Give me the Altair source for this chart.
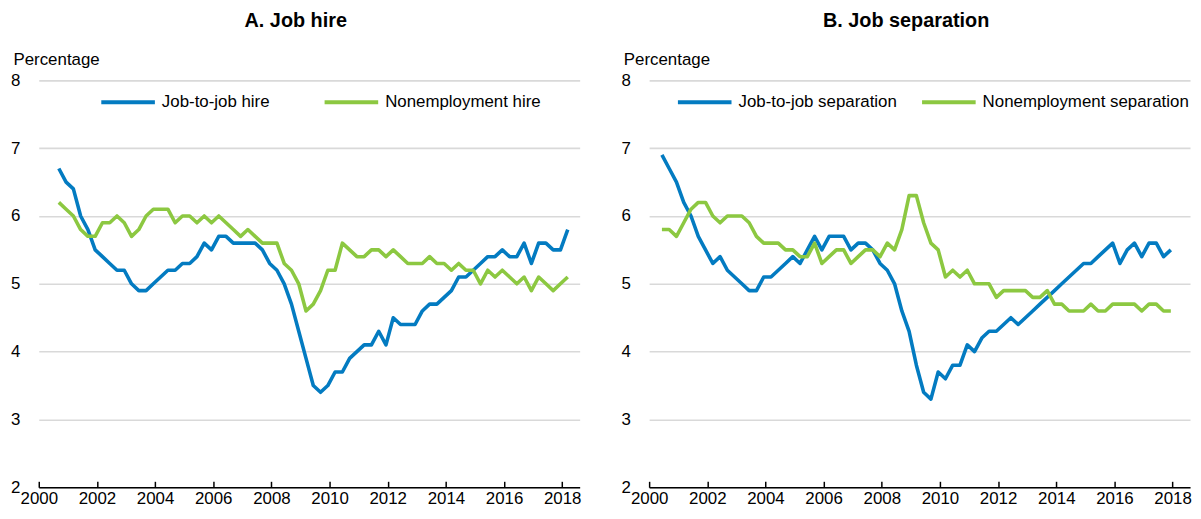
import altair as alt
import pandas as pd

# ---------------- data (quarterly, percent) ----------------
hire_series = ["Job-to-job hire", "Nonemployment hire"]
sep_series = ["Job-to-job separation", "Nonemployment separation"]

hire_first_quarter = (2000, 3)   # 2000Q3 .. 2018Q1
sep_first_quarter = (2000, 2)    # 2000Q2 .. 2017Q4

job_to_job_hire = [
    6.7, 6.5, 6.4, 6.0, 5.8, 5.5, 5.4, 5.3, 5.2, 5.2,
    5.0, 4.9, 4.9, 5.0, 5.1, 5.2, 5.2, 5.3, 5.3, 5.4,
    5.6, 5.5, 5.7, 5.7, 5.6, 5.6, 5.6, 5.6, 5.5, 5.3,
    5.2, 5.0, 4.7, 4.3, 3.9, 3.5, 3.4, 3.5, 3.7, 3.7,
    3.9, 4.0, 4.1, 4.1, 4.3, 4.1, 4.5, 4.4, 4.4, 4.4,
    4.6, 4.7, 4.7, 4.8, 4.9, 5.1, 5.1, 5.2, 5.3, 5.4,
    5.4, 5.5, 5.4, 5.4, 5.6, 5.3, 5.6, 5.6, 5.5, 5.5,
    5.8,
]
nonemployment_hire = [
    6.2, 6.1, 6.0, 5.8, 5.7, 5.7, 5.9, 5.9, 6.0, 5.9,
    5.7, 5.8, 6.0, 6.1, 6.1, 6.1, 5.9, 6.0, 6.0, 5.9,
    6.0, 5.9, 6.0, 5.9, 5.8, 5.7, 5.8, 5.7, 5.6, 5.6,
    5.6, 5.3, 5.2, 5.0, 4.6, 4.7, 4.9, 5.2, 5.2, 5.6,
    5.5, 5.4, 5.4, 5.5, 5.5, 5.4, 5.5, 5.4, 5.3, 5.3,
    5.3, 5.4, 5.3, 5.3, 5.2, 5.3, 5.2, 5.2, 5.0, 5.2,
    5.1, 5.2, 5.1, 5.0, 5.1, 4.9, 5.1, 5.0, 4.9, 5.0,
    5.1,
]
job_to_job_separation = [
    6.9, 6.7, 6.5, 6.2, 6.0, 5.7, 5.5, 5.3, 5.4, 5.2,
    5.1, 5.0, 4.9, 4.9, 5.1, 5.1, 5.2, 5.3, 5.4, 5.3,
    5.5, 5.7, 5.5, 5.7, 5.7, 5.7, 5.5, 5.6, 5.6, 5.5,
    5.3, 5.2, 5.0, 4.6, 4.3, 3.8, 3.4, 3.3, 3.7, 3.6,
    3.8, 3.8, 4.1, 4.0, 4.2, 4.3, 4.3, 4.4, 4.5, 4.4,
    4.5, 4.6, 4.7, 4.8, 4.9, 5.0, 5.1, 5.2, 5.3, 5.3,
    5.4, 5.5, 5.6, 5.3, 5.5, 5.6, 5.4, 5.6, 5.6, 5.4,
    5.5,
]
nonemployment_separation = [
    5.8, 5.8, 5.7, 5.9, 6.1, 6.2, 6.2, 6.0, 5.9, 6.0,
    6.0, 6.0, 5.9, 5.7, 5.6, 5.6, 5.6, 5.5, 5.5, 5.4,
    5.4, 5.6, 5.3, 5.4, 5.5, 5.5, 5.3, 5.4, 5.5, 5.5,
    5.4, 5.6, 5.5, 5.8, 6.3, 6.3, 5.9, 5.6, 5.5, 5.1,
    5.2, 5.1, 5.2, 5.0, 5.0, 5.0, 4.8, 4.9, 4.9, 4.9,
    4.9, 4.8, 4.8, 4.9, 4.7, 4.7, 4.6, 4.6, 4.6, 4.7,
    4.6, 4.6, 4.7, 4.7, 4.7, 4.7, 4.6, 4.7, 4.7, 4.6,
    4.6,
]

x_tick_years = list(range(2000, 2019, 2))
y_tick_values = [2, 3, 4, 5, 6, 7, 8]

BLUE = "#037BC1"
GREEN = "#8CC841"
FONT = "Liberation Sans, Arial, sans-serif"


def quarter_dates(first, n):
    year, q = first
    out = []
    for _ in range(n):
        out.append(year + (q - 1) / 4 + 0.19)
        q += 1
        if q > 4:
            q = 1
            year += 1
    return out


def long_frame(first, names, values):
    rows = []
    for name, vals in zip(names, values):
        for d, v in zip(quarter_dates(first, len(vals)), vals):
            rows.append({"date": d, "value": v, "series": name})
    return pd.DataFrame(rows)


def panel(df, title, names, legend_x, col_pad):
    x_scale = alt.Scale(domain=[2000, 2018.6], nice=False, zero=False)
    y_scale = alt.Scale(domain=[2, 8], nice=False, zero=False)
    y_axis = alt.Axis(values=y_tick_values, format="d",
                      title="Percentage", titleAngle=0, titleAlign="left",
                      titleBaseline="alphabetic", titleX=-26, titleY=-16,
                      titleFontSize=17, titleFontWeight="normal",
                      titleColor="black", titleFont=FONT,
                      grid=True, gridColor="#d9d9d9", gridWidth=1.6,
                      domain=False, ticks=False, tickSize=0,
                      labelFontSize=17, labelColor="black",
                      labelPadding=19, labelFont=FONT)

    lines = alt.Chart(df).mark_line(strokeWidth=3.6, strokeJoin="round").encode(
        x=alt.X("date:Q", scale=x_scale,
                axis=alt.Axis(values=x_tick_years, format="d", title=None,
                              grid=False, ticks=False, tickSize=0,
                              domain=True, domainColor="black", domainWidth=1.5,
                              labelFontSize=17, labelColor="black", labelPadding=3,
                              labelFlush=False, labelOverlap=False,
                              labelFont=FONT, zindex=1)),
        y=alt.Y("value:Q", scale=y_scale, axis=y_axis),
        color=alt.Color("series:N",
                        scale=alt.Scale(domain=names, range=[BLUE, GREEN]),
                        legend=alt.Legend(orient="none", legendX=legend_x, legendY=-7,
                                          direction="horizontal", title=None,
                                          symbolType="stroke", symbolSize=2916,
                                          symbolStrokeWidth=4, labelFontSize=17,
                                          labelOffset=5, columnPadding=col_pad,
                                          labelColor="black", labelLimit=400,
                                          labelFont=FONT)),
    )

    # invisible layer carrying the inward-pointing x ticks
    tick_axis = alt.Chart(df).mark_line(opacity=0).encode(
        x=alt.X("date:Q", scale=x_scale,
                axis=alt.Axis(orient="bottom", values=x_tick_years, labels=False,
                              domain=False, grid=False, ticks=True, tickSize=6,
                              tickColor="black", tickWidth=1.5, offset=-6,
                              title=None, zindex=1)),
        y=alt.Y("value:Q", scale=y_scale, axis=y_axis),
        detail="series:N",
    )

    return alt.layer(lines, tick_axis).resolve_axis(x="independent").properties(
        width=545, height=410,
        title=alt.TitleParams(title, fontSize=20, fontWeight="bold", anchor="middle",
                              frame="bounds", offset=20, color="black", font=FONT),
    )


hire_df = long_frame(hire_first_quarter, hire_series,
                     [job_to_job_hire, nonemployment_hire])
sep_df = long_frame(sep_first_quarter, sep_series,
                    [job_to_job_separation, nonemployment_separation])

left = panel(hire_df, "A. Job hire", hire_series, 61, 47)
right = panel(sep_df, "B. Job separation", sep_series, 27, 17)

chart = alt.hconcat(left, right, spacing=39).resolve_scale(
    color="independent"
).properties(
    padding={"left": 2, "top": 1, "right": 1, "bottom": 1}
).configure(font=FONT).configure_view(stroke=None)

chart.save("out.html", embed_options={"renderer": "svg", "actions": False})
